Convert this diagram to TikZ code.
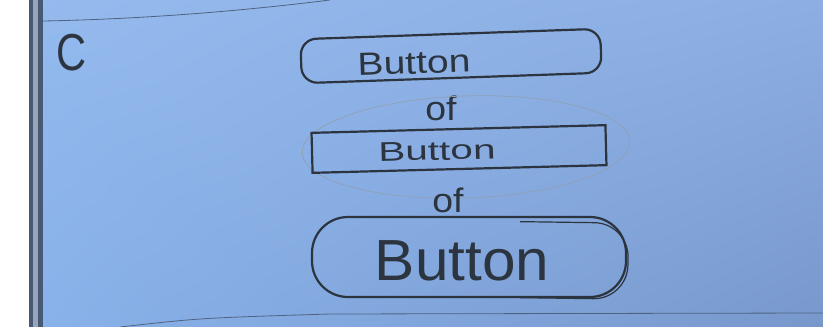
\documentclass[tikz,border=0pt]{standalone}
\usepackage{fontspec}
\setmainfont{Liberation Sans}
\usepackage{graphicx}
\usetikzlibrary{shadings}
\definecolor{ink}{HTML}{2C3440}
\definecolor{pencil}{HTML}{7C8FA8}
\definecolor{rule}{HTML}{4F6380}
\definecolor{pul}{RGB}{148,186,238}
\definecolor{pur}{RGB}{141,174,226}
\definecolor{pll}{RGB}{136,178,234}
\definecolor{plr}{RGB}{120,152,204}
\begin{document}
\begin{tikzpicture}[x=1pt,y=-1pt,
  btnshape/.style={draw=ink, line width=2.2pt, inner sep=0pt},
  handtxt/.style={text=ink, inner sep=0pt}]
\useasboundingbox (0,0) rectangle (823,327);
% paper
\fill[white] (0,0) rectangle (823,327);
\shade[upper left=pul, upper right=pur, lower left=pll, lower right=plr]
  (29,0) rectangle (823,327);
% left binding edge
\fill[rule!90!black] (29,0) rectangle (43,327);
\fill[pencil!80!white] (33,0) rectangle (38,327);
% ruled lines
\draw[rule, line width=0.8pt] (43,21) .. controls (150,19) and (250,10) .. (330,0);
\draw[rule, line width=0.8pt] (120,327) .. controls (200,318) .. (330,314) -- (823,313);
% letter C
\node[handtxt] (c) at (72,53) {\scalebox{0.8}[1]{\fontsize{52}{52}\selectfont C}};
% top button
\node[btnshape, rounded corners=16pt, minimum width=300pt, minimum height=44pt, rotate=2] (b1) at (451,56) {};
\node[handtxt, rotate=2] (t1) at (414,63) {\scalebox{1.22}[1]{\fontsize{32}{32}\selectfont Button}};
% first "of"
\node[handtxt] (o1) at (441,108) {\scalebox{1.1}[1]{\fontsize{34}{34}\selectfont of}};
% faint pencil ellipse
\coordinate (ec) at (466,147);
\draw[pencil!85!white, line width=0.7pt, rotate around={2:(ec)}] (ec) ellipse [x radius=164pt, y radius=51pt];
% middle button
\node[btnshape, minimum width=294pt, minimum height=40pt, rotate=1.5] (b2) at (459,149) {};
\node[handtxt, rotate=1.5] (t2) at (437,151) {\scalebox{1.5}[1]{\fontsize{27}{27}\selectfont Button}};
% second "of"
\node[handtxt] (o2) at (448,200) {\scalebox{1.1}[1]{\fontsize{34}{34}\selectfont of}};
% bottom button
\node[btnshape, rounded corners=36pt, minimum width=314pt, minimum height=80pt] (b3) at (469,257) {};
\begin{scope}
  \clip (520,205) rectangle (640,310);
  \node[draw=ink, line width=1.2pt, rounded corners=34pt, minimum width=308pt, minimum height=76pt, rotate=-0.8] (b3b) at (474,259) {};
\end{scope}
\node[handtxt] (t3) at (462,261) {\scalebox{1.04}[1]{\fontsize{58}{58}\selectfont Button}};
\end{tikzpicture}
\end{document}
